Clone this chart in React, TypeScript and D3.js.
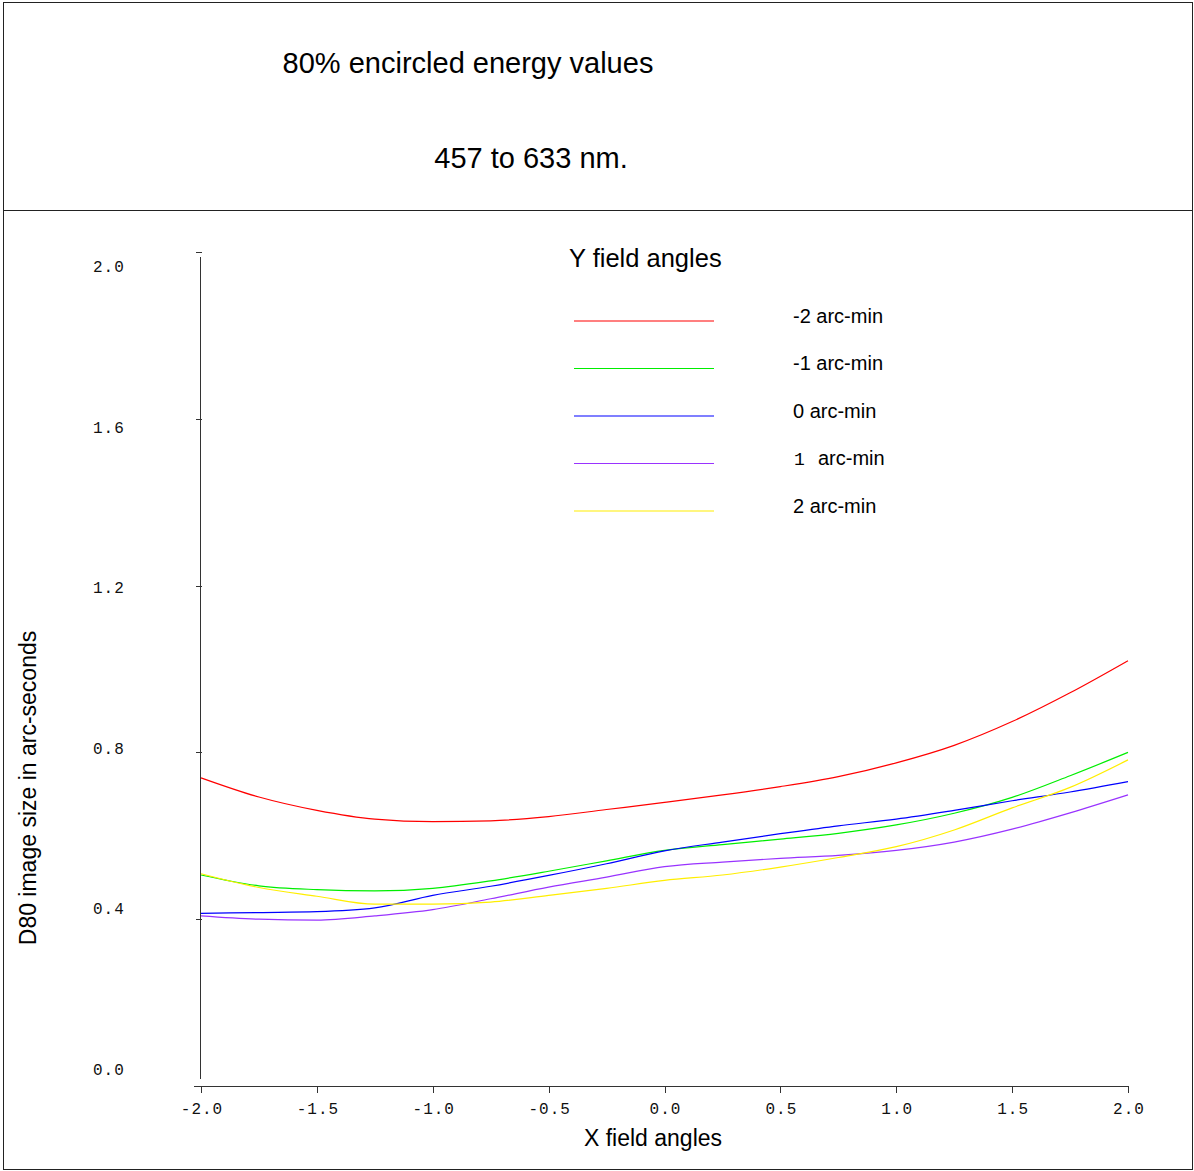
import React, { useEffect, useRef } from 'react';
import * as d3 from 'd3';

// field angle grid (x, arc-min) and D80 values (arc-sec) per y field angle
const xAngles = [-2, -1.75, -1.5, -1.25, -1, -0.75, -0.5, -0.25, 0, 0.25, 0.5, 0.75, 1, 1.25, 1.5, 1.75, 2];
const yMinus2 = [0.739, 0.693, 0.661, 0.640, 0.634, 0.636, 0.646, 0.663, 0.680, 0.698, 0.718, 0.742, 0.775, 0.817, 0.874, 0.943, 1.020];
const yMinus1 = [0.506, 0.480, 0.471, 0.468, 0.474, 0.492, 0.515, 0.540, 0.565, 0.579, 0.592, 0.606, 0.626, 0.654, 0.692, 0.744, 0.800];
const yZero = [0.414, 0.416, 0.418, 0.427, 0.457, 0.479, 0.505, 0.533, 0.564, 0.585, 0.605, 0.624, 0.640, 0.661, 0.684, 0.705, 0.730];
const yPlus1 = [0.408, 0.400, 0.398, 0.408, 0.423, 0.449, 0.477, 0.501, 0.526, 0.537, 0.546, 0.553, 0.565, 0.585, 0.616, 0.655, 0.698];
const yPlus2 = [0.509, 0.476, 0.455, 0.436, 0.436, 0.441, 0.457, 0.474, 0.493, 0.506, 0.525, 0.548, 0.574, 0.614, 0.667, 0.716, 0.782];

const seriesNames = ['-2', '-1', '0', '1', '2'];
const seriesColors = ['#ff0000', '#00ee00', '#0000ff', '#9933ff', '#ffee00'];
const seriesValues = [yMinus2, yMinus1, yZero, yPlus1, yPlus2];

const xTicks = [-2, -1.5, -1, -0.5, 0, 0.5, 1, 1.5, 2];
const yTicks = [0, 0.4, 0.8, 1.2, 1.6, 2.0];

const SANS = '"Liberation Sans", Arial, Helvetica, sans-serif';
const MONO = '"Liberation Mono", "Courier New", monospace';

const Chart = () => {
  const svgRef = useRef<SVGSVGElement>(null);

  useEffect(() => {
    const width = 1194;
    const height = 1171;
    const svg = d3.select(svgRef.current).attr('width', width).attr('height', height);
    svg.selectAll('*').remove();

    const x = d3.scaleLinear().domain([-2, 2]).range([201, 1128]);
    const y = d3.scaleLinear().domain([0, 2]).range([1086, 252]);
    // tick labels sit on their own, slightly compressed spacing
    const yLab = d3.scaleLinear().domain([0, 2]).range([1075, 272]);

    // frame
    svg.append('rect')
      .attr('x', 3.5).attr('y', 2.5)
      .attr('width', 1189).attr('height', 1167)
      .attr('fill', 'white').attr('stroke', '#222').attr('stroke-width', 1);
    svg.append('line')
      .attr('x1', 3).attr('x2', 1193).attr('y1', 210.5).attr('y2', 210.5)
      .attr('stroke', '#222');

    // titles
    svg.append('text')
      .attr('x', 468).attr('y', 73)
      .attr('text-anchor', 'middle')
      .style('font-family', SANS).style('font-size', '29px')
      .text('80% encircled energy values');
    svg.append('text')
      .attr('x', 531).attr('y', 168)
      .attr('text-anchor', 'middle')
      .style('font-family', SANS).style('font-size', '29px')
      .text('457 to 633 nm.');

    // axes
    svg.append('line')
      .attr('x1', 200.5).attr('x2', 200.5).attr('y1', 257).attr('y2', 1079)
      .attr('stroke', '#333');
    svg.append('line')
      .attr('x1', 194).attr('x2', x(2) + 0.5).attr('y1', y(0) + 0.5).attr('y2', y(0) + 0.5)
      .attr('stroke', '#333');

    svg.selectAll('.ytick')
      .data(yTicks.filter((d) => d > 0))
      .enter()
      .append('line')
      .attr('class', 'ytick')
      .attr('x1', 196).attr('x2', 202)
      .attr('y1', (d) => Math.round(y(d)) + 0.5)
      .attr('y2', (d) => Math.round(y(d)) + 0.5)
      .attr('stroke', '#333');

    svg.selectAll('.ylab')
      .data(yTicks)
      .enter()
      .append('text')
      .attr('class', 'ylab')
      .attr('x', 93)
      .attr('y', (d) => yLab(d))
      .style('font-family', MONO).style('font-size', '16px')
      .style('letter-spacing', '1px')
      .attr('fill', '#111')
      .text((d) => d.toFixed(1));

    svg.selectAll('.xtick')
      .data(xTicks)
      .enter()
      .append('line')
      .attr('class', 'xtick')
      .attr('x1', (d) => Math.round(x(d)) + 0.5)
      .attr('x2', (d) => Math.round(x(d)) + 0.5)
      .attr('y1', y(0)).attr('y2', y(0) + 7)
      .attr('stroke', '#333');

    svg.selectAll('.xlab')
      .data(xTicks)
      .enter()
      .append('text')
      .attr('class', 'xlab')
      .attr('x', (d) => x(d) + 1)
      .attr('y', 1114)
      .attr('text-anchor', 'middle')
      .style('font-family', MONO).style('font-size', '16px')
      .style('letter-spacing', '1px')
      .attr('fill', '#111')
      .text((d) => d.toFixed(1));

    // axis titles
    svg.append('text')
      .attr('x', 653).attr('y', 1146)
      .attr('text-anchor', 'middle')
      .style('font-family', SANS).style('font-size', '23px')
      .text('X field angles');
    svg.append('text')
      .attr('transform', 'translate(36,788) rotate(-90)')
      .attr('text-anchor', 'middle')
      .style('font-family', SANS).style('font-size', '23px')
      .text('D80 image size in arc-seconds');

    // curves
    const line = d3.line<number>()
      .x((d, i) => x(xAngles[i]))
      .y((d) => y(d))
      .curve(d3.curveMonotoneX);

    svg.selectAll('.curve')
      .data(seriesValues)
      .enter()
      .append('path')
      .attr('class', 'curve')
      .attr('d', (d) => line(d))
      .attr('fill', 'none')
      .attr('stroke', (d, i) => seriesColors[i])
      .attr('stroke-width', 1.2);

    // legend
    svg.append('text')
      .attr('x', 569).attr('y', 267)
      .style('font-family', SANS).style('font-size', '25.5px')
      .text('Y field angles');

    const legendY = d3.scaleLinear().domain([0, 4]).range([321, 511]);
    const items = svg.selectAll('.leg')
      .data(seriesNames)
      .enter()
      .append('g')
      .attr('class', 'leg');

    items.append('line')
      .attr('x1', 574).attr('x2', 714)
      .attr('y1', (d, i) => legendY(i)).attr('y2', (d, i) => legendY(i))
      .attr('stroke', (d, i) => seriesColors[i])
      .attr('stroke-width', 1.2);

    items.each(function (d, i) {
      const g = d3.select(this);
      if (d === '1') {
        g.append('text')
          .attr('x', 794).attr('y', legendY(i) + 1.5)
          .style('font-family', MONO).style('font-size', '18px')
          .text(d);
        g.append('text')
          .attr('x', 818).attr('y', legendY(i) + 1.5)
          .style('font-family', SANS).style('font-size', '20px')
          .text('arc-min');
      } else {
        g.append('text')
          .attr('x', 793).attr('y', legendY(i) + 1.5)
          .style('font-family', SANS).style('font-size', '20px')
          .text(`${d} arc-min`);
      }
    });
  }, []);

  return <svg ref={svgRef}></svg>;
};

export default function App() {
  return (
    <div style={{ position: 'absolute', left: 0, top: 0 }}>
      <Chart />
    </div>
  );
}
